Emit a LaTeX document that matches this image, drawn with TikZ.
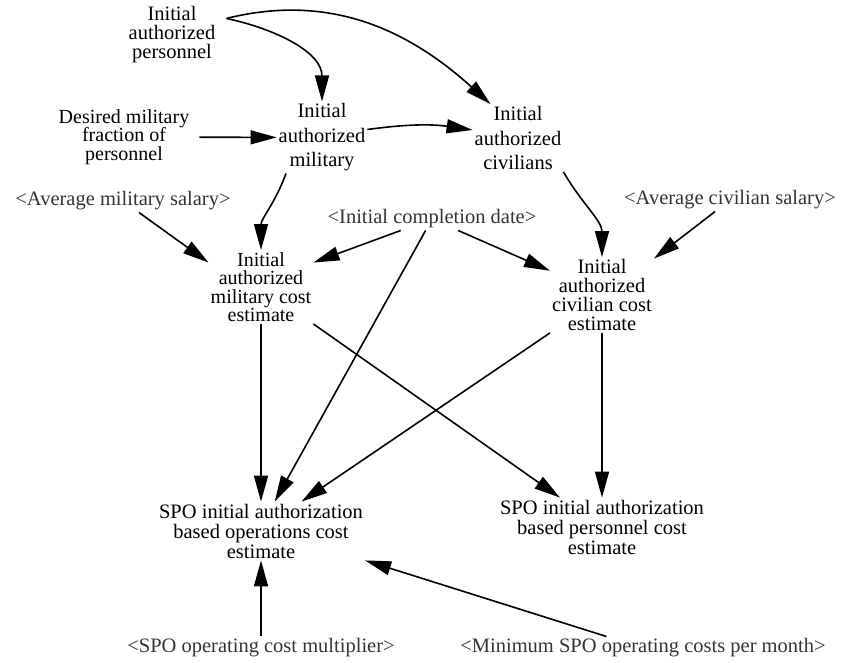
\documentclass[tikz,border=0pt]{standalone}
\usepackage{fontspec}
\setmainfont{Liberation Serif}
\usetikzlibrary{arrows.meta}

\begin{document}
\begin{tikzpicture}[
  x=1pt, y=1pt,
  var/.style={align=center, inner sep=2pt, font=\fontsize{20.5}{20}\selectfont},
  tightvar/.style={var, font=\fontsize{20}{18.5}\selectfont},
  midvar/.style={var, font=\fontsize{20.5}{19}\selectfont},
  widevar/.style={var, font=\fontsize{20.5}{24.5}\selectfont},
  shadowvar/.style={var, text=black!80},
  arrow/.style={-{Triangle[length=26pt, width=14pt]}, line width=1.6pt}
]
\useasboundingbox (0,0) rectangle (843,-662);

\node[midvar] (pers) at (172,-35) {Initial\\authorized\\personnel};
\node[tightvar] (milfrac) at (124,-137) {Desired military\\fraction of\\personnel};
\node[widevar] (mil) at (322,-137.5) {Initial\\authorized\\military};
\node[widevar] (civ) at (518,-138) {Initial\\authorized\\civilians};
\node[shadowvar] (avgmil) at (123,-201) {<Average military salary>};
\node[shadowvar] (compl) at (432,-219) {<Initial completion date>};
\node[shadowvar] (avgciv) at (730,-200) {<Average civilian salary>};
\node[tightvar] (milcost) at (261,-287) {Initial\\authorized\\military cost\\estimate};
\node[midvar] (civcost) at (602,-295) {Initial\\authorized\\civilian cost\\estimate};
\node[var] (opscost) at (261,-531) {SPO initial authorization\\based operations cost\\estimate};
\node[var] (perscost) at (602,-527) {SPO initial authorization\\based personnel cost\\estimate};
\node[shadowvar] (mult) at (261,-648) {<SPO operating cost multiplier>};
\node[shadowvar] (minops) at (643,-648) {<Minimum SPO operating costs per month>};

\draw[arrow] ([xshift=9pt]pers.20) to[out=-12, in=90] (mil.north);
\draw[arrow] ([xshift=9pt]pers.20) to[out=14, in=138] (civ.129);
\draw[arrow, shorten <=8pt] (milfrac) -- (mil);
\draw[arrow] (mil.10) to[bend left=8] (civ.170);
\draw[arrow] (mil.-135) to[out=-110, in=90] (milcost.north);
\draw[arrow] (civ.south east) to[out=-60, in=90] (civcost.north);
\draw[arrow] (avgmil) -- (milcost.155);
\draw[arrow] (compl) -- (milcost.25);
\draw[arrow] (compl) -- (civcost.155);
\draw[arrow] (avgciv) -- (civcost.35);
\draw[arrow] (compl) -- (opscost.65);
\draw[arrow] (milcost) -- (opscost);
\draw[arrow] (civcost.south west) -- (opscost.36);
\draw[arrow] (milcost.south east) -- (perscost.145);
\draw[arrow] (civcost) -- (perscost);
\draw[arrow] (mult) -- (opscost);
\draw[arrow] (minops) -- (opscost.south east);
\end{tikzpicture}
\end{document}
